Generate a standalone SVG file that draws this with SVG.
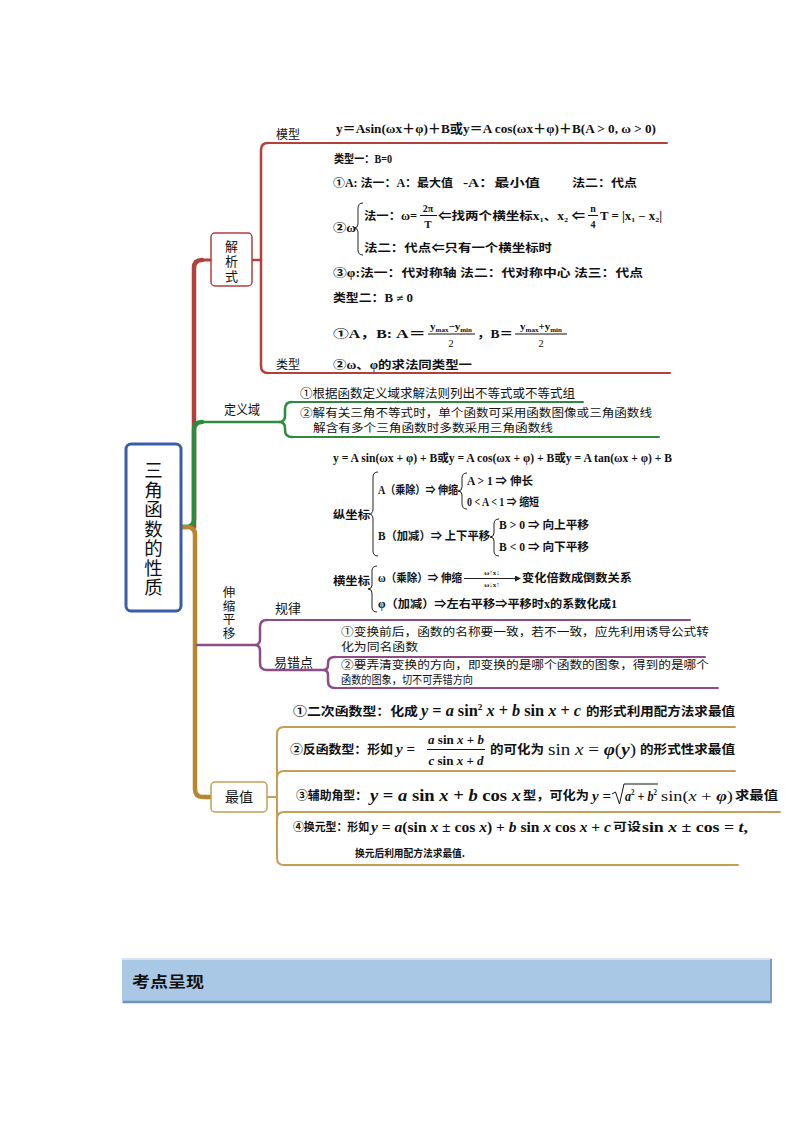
<svg xmlns="http://www.w3.org/2000/svg" width="794" height="1123" viewBox="0 0 794 1123">
<defs>
<style>
.cjk{font-family:"Noto Sans CJK SC",sans-serif;fill:#111}
.vt{writing-mode:vertical-rl;text-orientation:upright}
.m{font-family:"Liberation Serif","Noto Sans CJK SC",serif;font-weight:bold;fill:#111}
.mi{font-family:"Liberation Serif","Noto Sans CJK SC",serif;font-weight:bold;font-style:italic;fill:#111}
.mr{font-family:"Liberation Serif","Noto Sans CJK SC",serif;fill:#111}
.k{font-family:"Noto Sans CJK SC",sans-serif;font-weight:bold;fill:#111}
.red{stroke:#b2403b;fill:none;stroke-linecap:round}
.grn{stroke:#2d8a3f;fill:none;stroke-linecap:round}
.gld{stroke:#b8862c;fill:none;stroke-linecap:round}
.gl2{stroke:#c4a055;fill:none;stroke-linecap:round}
.pur{stroke:#8e4c87;fill:none;stroke-linecap:round}
.br{stroke:#222;fill:none;stroke-width:1}
</style>
<marker id="ah" markerWidth="6" markerHeight="6" refX="5" refY="3" orient="auto" markerUnits="userSpaceOnUse">
<path d="M0,0 L6,3 L0,6 z" fill="#222"/>
</marker>
</defs>
<rect width="794" height="1123" fill="#fff"/>

<g id="connectors">
<path class="red" stroke-width="4.5" d="M194,527 V268 Q194,260 202,260"/>
<path class="red" stroke-width="3" d="M202,260 H211"/>
<path class="grn" stroke-width="4.5" d="M181,527 H186 Q194,527 194,519 V430 Q194,422 202,422"/>
<path class="grn" stroke-width="2.5" d="M202,422 H279"/>
<path class="gld" stroke-width="4.5" d="M181,527 H187 Q195,527 195,535 V789 Q195,797 203,797 H211"/>
<path class="pur" stroke-width="2.5" d="M197,645 H255"/>
<!-- red bracket -->
<path class="red" stroke-width="2.5" d="M252,260 H261"/>
<path class="red" stroke-width="2.5" d="M268,143 Q261,143 261,150 V366 Q261,373 268,373"/>
<path class="red" stroke-width="2" d="M268,143 H667"/>
<path class="red" stroke-width="2" d="M268,373 H670"/>
<!-- green bracket -->
<path class="grn" stroke-width="2.5" d="M292,402 Q285,402 285,409 V416 Q285,422 279,422 Q285,422 285,428 V430 Q285,437 292,437"/>
<path class="grn" stroke-width="2" d="M292,402 H583"/>
<path class="grn" stroke-width="2" d="M292,437 H659"/>
<!-- purple bracket -->
<path class="pur" stroke-width="2.5" d="M267,620 Q260,620 260,627 V639 Q260,645 255,645 Q260,645 260,651 V663 Q260,670 267,670 H323"/>
<path class="pur" stroke-width="2" d="M267,620 H690"/>
<path class="pur" stroke-width="2.5" d="M335,657 Q328,657 328,663 V665 Q328,670 323,670 Q328,670 328,675 V681 Q328,688 335,688"/>
<path class="pur" stroke-width="2" d="M335,657 H705"/>
<path class="pur" stroke-width="2" d="M335,688 H718"/>
<!-- gold bracket -->
<path class="gl2" stroke-width="2" d="M267,797 H277"/>
<path class="gl2" stroke-width="2" d="M284,727 Q277,727 277,734 V858 Q277,865 284,865"/>
<path class="gl2" stroke-width="2" d="M284,727 H735"/>
<path class="gl2" stroke-width="2" d="M284,771 H735 M277,778 Q277,771 284,771"/>
<path class="gl2" stroke-width="2" d="M284,812 H780 M277,819 Q277,812 284,812"/>
<path class="gl2" stroke-width="2" d="M284,865 H738"/>
</g>

<g id="main">
<rect x="126" y="444" width="55" height="167" rx="5" fill="#fff" stroke="#3b5bab" stroke-width="3"/>
<text class="cjk vt" x="153.5" y="461" font-size="18.5" letter-spacing="1">三角函数的性质</text>
</g>

<g id="jiexishi">
<rect x="211" y="233" width="41" height="53" rx="4" fill="#fff" stroke="#b2403b" stroke-width="1.5"/>
<text class="cjk vt" x="231.5" y="240" font-size="13" letter-spacing="2">解析式</text>
</g>
<g id="label-moxing"><text class="cjk" x="276" y="139" font-size="12">模型</text></g>
<g id="label-leixing"><text class="cjk" x="276" y="369" font-size="12">类型</text></g>

<g id="jiexishi-content">
<text class="m" x="336" y="133" font-size="13" textLength="320" lengthAdjust="spacingAndGlyphs">y＝Asin(ωx＋φ)＋B或y＝A cos(ωx＋φ)＋B(A &gt; 0,  ω &gt; 0)</text>
<text class="m" x="334" y="163" font-size="11.5" textLength="58" lengthAdjust="spacingAndGlyphs">类型一：B=0</text>
<text class="m" x="333" y="187" font-size="11.5" textLength="120" lengthAdjust="spacingAndGlyphs">①A: 法一：A：最大值</text>
<text class="m" x="463" y="187" font-size="11.5" textLength="77" lengthAdjust="spacingAndGlyphs">-A：最小值</text>
<text class="m" x="572" y="187" font-size="11.5" textLength="65" lengthAdjust="spacingAndGlyphs">法二：代点</text>
<text class="m" x="333" y="232" font-size="11.5" textLength="23" lengthAdjust="spacingAndGlyphs">②ω</text>
<path class="br" d="M363,203 Q358,203 358,208 V224 Q358,228 354,228 Q358,228 358,232 V250 Q358,255 363,255"/>
<text class="m" x="364" y="220" font-size="11.5" textLength="53" lengthAdjust="spacingAndGlyphs">法一：ω=</text>
<text class="m" x="428" y="212" font-size="10" text-anchor="middle">2π</text>
<line x1="420" y1="215.5" x2="437" y2="215.5" stroke="#111" stroke-width="1"/>
<text class="m" x="428" y="228" font-size="11" text-anchor="middle">T</text>
<text class="m" x="438" y="220" font-size="11.5" textLength="147" lengthAdjust="spacingAndGlyphs">⇐找两个横坐标x<tspan font-size="7" dy="2">1</tspan><tspan dy="-2">、x</tspan><tspan font-size="7" dy="2">2</tspan><tspan dy="-2"> ⇐</tspan></text>
<text class="m" x="593" y="212" font-size="10" text-anchor="middle">n</text>
<line x1="588" y1="215.5" x2="598" y2="215.5" stroke="#111" stroke-width="1"/>
<text class="m" x="593" y="228" font-size="10" text-anchor="middle">4</text>
<text class="m" x="600" y="220" font-size="11.5" textLength="62" lengthAdjust="spacingAndGlyphs">T = |x<tspan font-size="7" dy="2">1</tspan><tspan dy="-2"> − x</tspan><tspan font-size="7" dy="2">2</tspan><tspan dy="-2">|</tspan></text>
<text class="m" x="364" y="252" font-size="11.5" textLength="188" lengthAdjust="spacingAndGlyphs">法二：代点⇐只有一个横坐标时</text>
<text class="m" x="333" y="277" font-size="11.5" textLength="310" lengthAdjust="spacingAndGlyphs">③φ:法一：代对称轴 法二：代对称中心 法三：代点</text>
<text class="m" x="333" y="302" font-size="11.5" textLength="80" lengthAdjust="spacingAndGlyphs">类型二：B ≠ 0</text>
<text class="m" x="333" y="338" font-size="11.5" textLength="59" lengthAdjust="spacingAndGlyphs">①A，B:</text>
<text class="m" x="396" y="338" font-size="11.5" textLength="30" lengthAdjust="spacingAndGlyphs">A＝</text>
<text class="m" x="451" y="330" font-size="11" text-anchor="middle">y<tspan font-size="7" dy="2">max</tspan><tspan dy="-2">−y</tspan><tspan font-size="7" dy="2">min</tspan></text>
<line x1="428" y1="334" x2="475" y2="334" stroke="#111" stroke-width="1"/>
<text class="mr" x="451" y="347" font-size="11" text-anchor="middle">2</text>
<text class="m" x="477" y="338" font-size="11.5" textLength="36" lengthAdjust="spacingAndGlyphs">，B＝</text>
<text class="m" x="541" y="330" font-size="11" text-anchor="middle">y<tspan font-size="7" dy="2">max</tspan><tspan dy="-2">+y</tspan><tspan font-size="7" dy="2">min</tspan></text>
<line x1="515" y1="334" x2="567" y2="334" stroke="#111" stroke-width="1"/>
<text class="mr" x="541" y="347" font-size="11" text-anchor="middle">2</text>
<text class="m" x="333" y="369" font-size="11.5" textLength="139" lengthAdjust="spacingAndGlyphs">②ω、φ的求法同类型一</text>
</g>

<g id="dingyiyu">
<text class="cjk" x="224" y="414" font-size="13" textLength="36" lengthAdjust="spacingAndGlyphs">定义域</text>
</g>
<g id="dingyiyu-content">
<text class="cjk" x="300" y="398" font-size="12.5" textLength="275" lengthAdjust="spacingAndGlyphs">①根据函数定义域求解法则列出不等式或不等式组</text>
<text class="cjk" x="300" y="416.5" font-size="11.5" textLength="352" lengthAdjust="spacingAndGlyphs">②解有关三角不等式时，单个函数可采用函数图像或三角函数线</text>
<text class="cjk" x="313" y="431.5" font-size="11.5" textLength="240" lengthAdjust="spacingAndGlyphs">解含有多个三角函数时多数采用三角函数线</text>
</g>

<g id="shensuo">
<text class="cjk vt" x="229" y="586" font-size="12.5" letter-spacing="1.2">伸缩平移</text>
</g>
<g id="label-guilv"><text class="cjk" x="275" y="613" font-size="13">规律</text></g>
<g id="label-yicuodian"><text class="cjk" x="274" y="667" font-size="13">易错点</text></g>

<g id="guilv-content">
<text class="m" x="333" y="462" font-size="11.5" textLength="339" lengthAdjust="spacingAndGlyphs">y = A sin(ωx + φ) + B或y = A cos(ωx + φ) + B或y = A tan(ωx + φ) + B</text>
<text class="m" x="333" y="519" font-size="11" textLength="37" lengthAdjust="spacingAndGlyphs">纵坐标</text>
<path class="br" d="M378,472 Q373,472 373,477 V509 Q373,514 369,514 Q373,514 373,519 V551 Q373,556 378,556"/>
<text class="m" x="378" y="494" font-size="11.5" textLength="80" lengthAdjust="spacingAndGlyphs">A（乘除）⇒ 伸缩</text>
<path class="br" d="M467,473 Q462,473 462,478 V487 Q462,491 458,491 Q462,491 462,495 V504 Q462,509 467,509"/>
<text class="m" x="467" y="485" font-size="11.5" textLength="66" lengthAdjust="spacingAndGlyphs">A &gt; 1 ⇒ 伸长</text>
<text class="m" x="467" y="506" font-size="11.5" textLength="72" lengthAdjust="spacingAndGlyphs">0 &lt; A &lt; 1 ⇒ 缩短</text>
<text class="m" x="378" y="540" font-size="11.5" textLength="112" lengthAdjust="spacingAndGlyphs">B（加减）⇒ 上下平移</text>
<path class="br" d="M499,519 Q494,519 494,524 V533 Q494,537 490,537 Q494,537 494,541 V551 Q494,556 499,556"/>
<text class="m" x="499" y="529" font-size="11.5" textLength="90" lengthAdjust="spacingAndGlyphs">B &gt; 0 ⇒ 向上平移</text>
<text class="m" x="499" y="551" font-size="11.5" textLength="90" lengthAdjust="spacingAndGlyphs">B &lt; 0 ⇒ 向下平移</text>
<text class="m" x="333" y="585" font-size="11" textLength="37" lengthAdjust="spacingAndGlyphs">横坐标</text>
<path class="br" d="M377,566 Q372,566 372,571 V585 Q372,589 368,589 Q372,589 372,593 V607 Q372,612 377,612"/>
<text class="m" x="378" y="582" font-size="11.5" textLength="84" lengthAdjust="spacingAndGlyphs">ω（乘除）⇒ 伸缩</text>
<line x1="464" y1="578.5" x2="520" y2="578.5" stroke="#222" stroke-width="1" marker-end="url(#ah)"/>
<text class="m" x="492" y="575" font-size="7" text-anchor="middle">ω↑x↓</text>
<text class="m" x="492" y="587" font-size="7" text-anchor="middle">ω↓x↑</text>
<text class="m" x="522" y="582" font-size="11.5" textLength="110" lengthAdjust="spacingAndGlyphs">变化倍数成倒数关系</text>
<text class="m" x="378" y="608" font-size="11.5" textLength="239" lengthAdjust="spacingAndGlyphs">φ（加减）⇒左右平移⇒平移时x的系数化成1</text>
</g>

<g id="yicuodian-content">
<text class="cjk" x="341" y="636" font-size="11.5" textLength="368" lengthAdjust="spacingAndGlyphs">①变换前后，函数的名称要一致，若不一致，应先利用诱导公式转</text>
<text class="cjk" x="341" y="651" font-size="11.5" textLength="77" lengthAdjust="spacingAndGlyphs">化为同名函数</text>
<text class="cjk" x="341" y="669" font-size="11.5" textLength="368" lengthAdjust="spacingAndGlyphs">②要弄清变换的方向，即变换的是哪个函数的图象，得到的是哪个</text>
<text class="cjk" x="341" y="684" font-size="11.5" textLength="132" lengthAdjust="spacingAndGlyphs">函数的图象，切不可弄错方向</text>
</g>

<g id="zuizhi">
<rect x="211" y="782" width="56" height="30" rx="4" fill="#fff" stroke="#c4a055" stroke-width="1.5"/>
<text class="cjk" x="239" y="802" font-size="14" text-anchor="middle">最值</text>
</g>

<g id="zuizhi-content">
<text class="k" x="293" y="716" font-size="12.5" textLength="125" lengthAdjust="spacingAndGlyphs">①二次函数型：化成</text>
<text class="m" x="421" y="716" font-size="16" textLength="160" lengthAdjust="spacingAndGlyphs"><tspan font-style="italic">y</tspan> = <tspan font-style="italic">a</tspan> sin<tspan font-size="9" dy="-6">2</tspan><tspan dy="6"> </tspan><tspan font-style="italic">x</tspan> + <tspan font-style="italic">b</tspan> sin <tspan font-style="italic">x</tspan> + <tspan font-style="italic">c</tspan></text>
<text class="k" x="586" y="716" font-size="12.5" textLength="149" lengthAdjust="spacingAndGlyphs">的形式利用配方法求最值</text>

<text class="k" x="290" y="754" font-size="12.5" textLength="103" lengthAdjust="spacingAndGlyphs">②反函数型：形如</text>
<text class="mi" x="396" y="754" font-size="15">y<tspan font-style="normal"> =</tspan></text>
<text class="m" x="456" y="744" font-size="13" text-anchor="middle"><tspan font-style="italic">a</tspan> sin <tspan font-style="italic">x</tspan> + <tspan font-style="italic">b</tspan></text>
<line x1="427" y1="749.5" x2="485" y2="749.5" stroke="#111" stroke-width="1"/>
<text class="m" x="456" y="765" font-size="13" text-anchor="middle"><tspan font-style="italic">c</tspan> sin <tspan font-style="italic">x</tspan> + <tspan font-style="italic">d</tspan></text>
<text class="k" x="490" y="754" font-size="12.5" textLength="54" lengthAdjust="spacingAndGlyphs">的可化为</text>
<text class="mr" x="548" y="755" font-size="16" textLength="88" lengthAdjust="spacingAndGlyphs">sin <tspan font-style="italic">x</tspan> = <tspan font-style="italic" font-weight="bold">φ</tspan>(<tspan font-style="italic" font-weight="bold">y</tspan>)</text>
<text class="k" x="640" y="754" font-size="12.5" textLength="95" lengthAdjust="spacingAndGlyphs">的形式性求最值</text>

<text class="k" x="296" y="800" font-size="12" textLength="71" lengthAdjust="spacingAndGlyphs">③辅助角型：</text>
<text class="m" x="370" y="801" font-size="17" textLength="151" lengthAdjust="spacingAndGlyphs"><tspan font-style="italic">y</tspan> = <tspan font-style="italic">a</tspan> sin <tspan font-style="italic">x</tspan> + <tspan font-style="italic">b</tspan> cos <tspan font-style="italic">x</tspan></text>
<text class="k" x="523" y="800" font-size="12.5" textLength="66" lengthAdjust="spacingAndGlyphs">型，可化为</text>
<text class="mi" x="592" y="801" font-size="15">y<tspan font-style="normal"> =</tspan></text>
<path d="M612,794 L615.5,792 L619.5,804 L624,784 L658,784" fill="none" stroke="#111" stroke-width="1"/>
<text class="mi" x="625" y="801" font-size="14" textLength="32" lengthAdjust="spacingAndGlyphs">a<tspan font-size="8" dy="-6" font-style="normal">2</tspan><tspan dy="6" font-style="normal"> + </tspan>b<tspan font-size="8" dy="-6" font-style="normal">2</tspan></text>
<text class="mr" x="661" y="801" font-size="15" textLength="72" lengthAdjust="spacingAndGlyphs">sin(<tspan font-style="italic">x</tspan> + <tspan font-style="italic" font-weight="bold">φ</tspan>)</text>
<text class="k" x="735" y="800" font-size="12.5" textLength="43" lengthAdjust="spacingAndGlyphs">求最值</text>

<text class="k" x="293" y="831" font-size="11" textLength="76" lengthAdjust="spacingAndGlyphs">④换元型：形如</text>
<text class="m" x="371" y="832" font-size="15" textLength="240" lengthAdjust="spacingAndGlyphs"><tspan font-style="italic">y</tspan> = <tspan font-style="italic">a</tspan>(sin <tspan font-style="italic">x</tspan> ± cos <tspan font-style="italic">x</tspan>) + <tspan font-style="italic">b</tspan> sin <tspan font-style="italic">x</tspan> cos <tspan font-style="italic">x</tspan> + <tspan font-style="italic">c</tspan></text>
<text class="k" x="613" y="831" font-size="11" textLength="28" lengthAdjust="spacingAndGlyphs">可设</text>
<text class="m" x="642" y="832" font-size="15" textLength="106" lengthAdjust="spacingAndGlyphs">sin <tspan font-style="italic">x</tspan> ± cos = <tspan font-style="italic">t</tspan>,</text>
<text class="k" x="355" y="857" font-size="10.5" textLength="110" lengthAdjust="spacingAndGlyphs">换元后利用配方法求最值.</text>
</g>

<g id="banner">
<rect x="122" y="958" width="650" height="45" fill="#a9c8e6"/>
<line x1="122" y1="959" x2="772" y2="959" stroke="#d5e3f2" stroke-width="2"/>
<line x1="123" y1="1002" x2="772" y2="1002" stroke="#6f93bd" stroke-width="2.5"/>
<line x1="771" y1="959" x2="771" y2="1003" stroke="#7b9dc4" stroke-width="2"/>
<text class="k" x="132" y="987" font-size="15" textLength="72" lengthAdjust="spacingAndGlyphs">考点呈现</text>
</g>
</svg>
